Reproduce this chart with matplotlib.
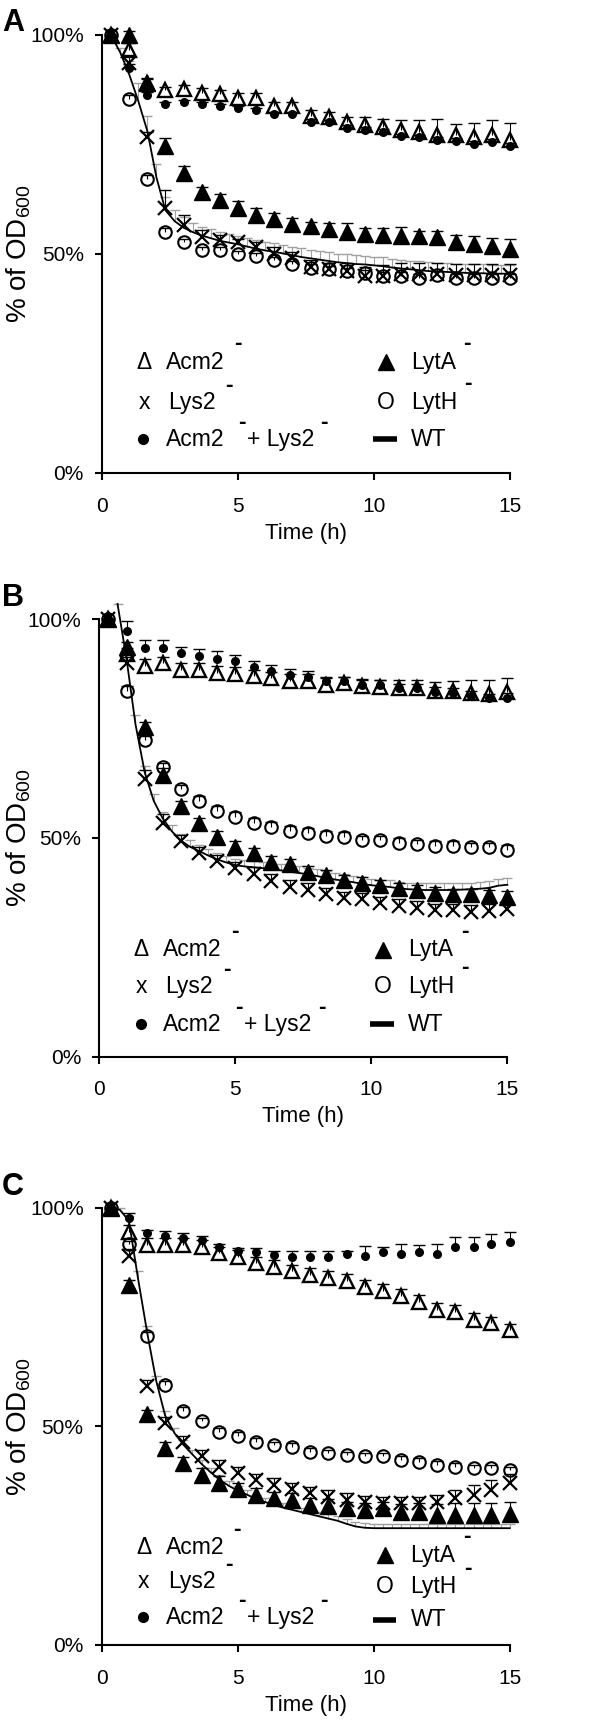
import numpy as np
import matplotlib
matplotlib.use("Agg")
import matplotlib.pyplot as plt

plt.rcParams['font.family'] = ['Liberation Sans', 'DejaVu Sans']
plt.rcParams['mathtext.default'] = 'regular'

# sampling times (h) of the mutant strains and of the wild type
TIME = [0.33, 1.0, 1.67, 2.33, 3.0, 3.67, 4.33, 5.0, 5.67, 6.33, 7.0, 7.67,
        8.33, 9.0, 9.67, 10.33, 11.0, 11.67, 12.33, 13.0, 13.67, 14.33, 15.0]
TIME_WT = [0.33, 0.67, 1.0, 1.33, 1.67, 2.0, 2.33, 2.67, 3.0, 3.33, 3.67, 4.0,
           4.33, 4.67, 5.0, 5.33, 5.67, 6.0, 6.33, 6.67, 7.0, 7.33, 7.67, 8.0,
           8.33, 8.67, 9.0, 9.33, 9.67, 10.0, 10.33, 10.67, 11.0, 11.33, 11.67,
           12.0, 12.33, 12.67, 13.0, 13.33, 13.67, 14.0, 14.33, 14.67, 15.0]

# ---- panel A ----
ACM2_A = [100, 96.6, 89, 87.4, 87.7, 86.8, 86.5, 85.7, 85.7, 83.8, 83.8, 81.5,
          81.2, 80.2, 79.5, 79.1, 78.3, 77.9, 77.2, 77.2, 76.6, 77.2, 76.0]
ACM2_A_ERR = [0, 1.5, 1, 0.8, 0.8, 1, 1, 1, 1, 1, 1, 1.4, 1.3, 1.1, 1.8, 1.7,
              2.4, 2.8, 3.6, 2.5, 3.2, 3.3, 3.8]
COMBO_A = [100, 92.4, 86.3, 84.2, 84.6, 84.2, 83.8, 83.3, 82.9, 81.9, 81.9, 80.2,
           80.1, 78.8, 78.3, 77.9, 76.9, 76.6, 76.0, 75.8, 75.1, 75.6, 74.7]
COMBO_A_ERR = [0, 1, 0.6, 0.5, 0.5, 0.5, 0.5, 0.5, 0.5, 0.6, 0.6, 0.6, 0.6, 0.6,
               0.6, 0.6, 0.6, 0.6, 0.6, 0.6, 0.6, 0.6, 0.6]
LYTA_A = [100, 100, 89, 74.7, 68.6, 64.1, 62.3, 60.6, 58.9, 57.9, 56.8, 56.4,
          55.6, 55.1, 54.5, 54.3, 54.0, 54.0, 53.8, 52.7, 52.2, 51.8, 51.1]
LYTA_A_ERR = [0, 0.8, 1.1, 1.7, 1.5, 1.3, 1.4, 1.4, 1.5, 1.4, 1.4, 0.8, 1.5, 1.9,
              1.5, 1.7, 2.1, 1.3, 1.4, 1.7, 1.8, 1.9, 2.3]
LYS2_A = [100, 93.7, 76.8, 60.4, 56.6, 53.8, 53.2, 52.7, 51.7, 50.0, 49.0, 47.1,
          46.5, 46.0, 45.0, 45.0, 45.4, 45.4, 45.4, 45.2, 45.2, 45.2, 45.2]
LYS2_A_ERR = [0, 1.8, 1.1, 4.2, 2.3, 1.7, 1.1, 0.8, 1.1, 1.5, 1.5, 1.5, 1.5, 2,
              2, 2.5, 2.5, 2.5, 2.5, 2.5, 2.5, 2.5, 2.5]
LYTH_A = [100, 85.3, 67.1, 55.1, 52.7, 50.9, 50.9, 49.9, 49.5, 48.6, 47.7, 46.9,
          46.5, 46.0, 45.6, 45.0, 45.0, 44.6, 45.2, 44.6, 44.6, 44.6, 44.6]
LYTH_A_ERR = [0, 1, 0.9, 0.8, 0.8, 0.8, 0.8, 0.8, 0.8, 0.8, 0.8, 0.8, 0.8, 0.8,
              0.8, 0.8, 0.8, 0.8, 0.8, 0.8, 0.8, 0.8, 0.8]
WT_A = [100, 96, 91, 85, 78, 67.5, 60, 57.5, 56, 55, 54.2, 53.6, 53, 52.6, 52.2,
        51.7, 51.2, 50.8, 50.5, 50.1, 49.7, 49.3, 49, 48.7, 48.4, 48.1, 47.9,
        47.7, 47.6, 47.4, 47.2, 46.9, 46.7, 46.5, 46.3, 46.1, 46.0, 45.9, 45.8,
        45.7, 45.6, 45.6, 45.5, 45.5, 45.5]
WT_A_ERR = [0, 1, 3, 4, 3.5, 3, 3, 2.5, 2.5, 2, 2, 2, 2, 2, 2, 2, 2, 2, 2, 2, 2,
            2, 2, 2, 2, 2, 2, 2, 2, 2, 2, 2, 2, 2, 2, 2, 2, 2, 2, 2, 2, 2, 2, 2, 2]

# ---- panel B ----
ACM2_B = [100, 92, 89.3, 89.9, 88.4, 88.4, 87.8, 87.5, 87.0, 86.5, 85.9, 85.9,
          85.0, 85.4, 84.8, 84.6, 84.2, 84.2, 83.7, 83.7, 83.1, 82.8, 83.3]
ACM2_B_ERR = [0, 1.5, 1.5, 1.5, 1.5, 1.5, 1.5, 1.5, 1.5, 1.5, 1.5, 1.5, 1.5, 1.5,
              1.5, 1.5, 1.8, 1.8, 2, 2.2, 3, 3.3, 3.2]
COMBO_B = [100, 97.2, 93.5, 93.5, 92.2, 91.7, 90.9, 90.5, 89.0, 88.2, 87.3, 86.7,
           85.9, 85.9, 85.0, 85.0, 84.2, 84.2, 83.4, 83.2, 82.5, 81.9, 82.1]
COMBO_B_ERR = [0, 2.3, 1.8, 1.8, 1.4, 1.4, 1.9, 1.4, 1.5, 1.3, 1.4, 1.5, 1, 1, 1,
               1, 1, 1, 1, 1, 1, 1, 1]
LYTA_B = [100, 93.7, 75.4, 64.4, 57.3, 53.4, 50.3, 48.0, 46.5, 44.6, 44.0, 42.3,
          41.5, 40.4, 39.8, 39.3, 38.5, 38.0, 37.5, 37.1, 37.1, 37.0, 36.6]
LYTA_B_ERR = [0, 1.2, 1.1, 1.5, 1.2, 1.2, 1.2, 1.2, 1.2, 1.2, 1.2, 1.2, 1.2, 1.2,
              1.2, 1.2, 1.2, 1.2, 1.2, 1.2, 1.2, 1.2, 1.2]
LYS2_B = [100, 89.9, 63.5, 53.4, 49.2, 46.5, 44.7, 43.1, 41.8, 40.2, 38.9, 38.1,
          37.1, 36.2, 36.0, 35.1, 34.5, 34.1, 33.5, 33.5, 33.1, 33.3, 33.7]
LYS2_B_ERR = [0, 1.5, 2, 2, 1.5, 1.5, 1.5, 1.5, 1.5, 1.5, 1.5, 1.5, 1.5, 1.5,
              1.5, 1.5, 1.5, 1.5, 1.5, 1.5, 1.5, 1.5, 1.5]
LYTH_B = [100, 83.7, 72.4, 66.2, 61.2, 58.5, 56.2, 54.9, 53.5, 52.6, 51.7, 51.2,
          50.5, 50.3, 49.5, 49.5, 48.9, 48.6, 48.2, 48.2, 47.9, 47.9, 47.3]
LYTH_B_ERR = [0, 1, 1, 1, 1, 1, 1, 1, 1, 1, 1, 1, 1, 1, 1, 1, 1, 1, 1, 1, 1, 1, 1]
TIME_WT_B = TIME_WT[1:]
WT_B = [103.5, 91, 76, 65, 58.5, 54.5, 51.5, 49.4, 48, 47, 46, 45.1, 44.4, 43.8,
        43.5, 43.3, 43.1, 42.9, 42.6, 42.3, 42.0, 41.7, 41.3, 40.9, 40.5, 40.2,
        39.9, 39.5, 39.2, 39.0, 38.8, 38.5, 38.3, 38.2, 38.1, 38.1, 38.1, 38.1,
        38.2, 38.3, 38.4, 38.6, 39.1, 39.3]
WT_B_ERR = [0, 2, 2, 1.5, 1.5, 1.5, 1.5, 1.5, 1.5, 1.5, 1.5, 1.5, 1.5, 1.5, 1.5,
            1.5, 1.5, 1.5, 1.5, 1.5, 1.5, 1.5, 1.5, 1.5, 1.5, 1.5, 1.5, 1.5, 1.5,
            1.5, 1.5, 1.5, 1.5, 1.5, 1.5, 1.5, 1.5, 1.5, 1.5, 1.5, 1.5, 1.5, 1.5,
            1.5]

# ---- panel C ----
ACM2_C = [100, 94.5, 91.5, 91.5, 91.5, 91.1, 89.6, 88.8, 87.3, 86.5, 85.4, 84.6,
          83.9, 83.3, 81.9, 81.0, 79.8, 78.5, 76.6, 76.2, 74.3, 73.6, 72.0]
ACM2_C_ERR = [0, 1.5, 1.5, 1.5, 1.5, 1.5, 1.5, 1.5, 1.5, 1.5, 1.5, 1.5, 1.5, 1.5,
              1.5, 1.5, 1.5, 1.5, 1.5, 1.5, 1.5, 1.5, 1.4]
COMBO_C = [100, 97.6, 94.1, 93.5, 93.1, 92.6, 90.9, 90.1, 89.9, 89.2, 88.7, 88.7,
           88.7, 89.4, 89.0, 89.9, 89.4, 89.9, 89.3, 90.9, 90.9, 91.6, 92.2]
COMBO_C_ERR = [0, 1.1, 0.9, 1.1, 1, 0.9, 0.9, 0.6, 0.8, 1, 1.5, 1.5, 1.5, 0.8,
               2.3, 1, 2.4, 1.5, 2.5, 2.3, 2.3, 2.3, 2.3]
LYTA_C = [100, 82.3, 52.8, 45.0, 41.5, 38.9, 37.1, 35.6, 34.3, 33.5, 33.2, 32.0,
          31.8, 31.3, 30.9, 31.3, 30.5, 30.4, 29.7, 29.7, 29.7, 29.7, 30.0]
LYTA_C_ERR = [0, 1.1, 1, 1.5, 1.5, 1.5, 1.5, 1.5, 1.5, 1.5, 1.5, 1.5, 1.5, 1.5,
              1.5, 1.5, 1.8, 2, 2.5, 2.7, 2.7, 2.7, 2.7]
LYS2_C = [100, 89.0, 59.2, 50.7, 46.3, 43.1, 40.8, 39.3, 37.7, 36.6, 35.6, 34.7,
          33.9, 33.2, 32.6, 32.4, 32.4, 32.4, 32.8, 33.5, 34.3, 35.4, 37.0]
LYS2_C_ERR = [0, 1.5, 1.5, 1.5, 1.5, 1.5, 1.5, 1.5, 1.5, 1.5, 1.5, 1.5, 1.5, 1.5,
              1.5, 1.5, 1.5, 1.5, 1.5, 1.9, 2.2, 2.3, 2.0]
LYTH_C = [100, 91.6, 70.7, 59.5, 53.6, 51.1, 48.8, 47.8, 46.5, 45.7, 45.3, 44.2,
          43.8, 43.4, 43.1, 43.1, 42.3, 41.9, 41.2, 40.8, 40.4, 40.4, 39.9]
LYTH_C_ERR = [0, 0.8, 0.8, 0.8, 0.8, 0.8, 0.8, 0.8, 0.8, 0.8, 0.8, 0.8, 0.8, 0.8,
              0.8, 0.8, 0.8, 0.8, 0.8, 0.8, 0.8, 0.8, 0.8]
WT_C = [100, 99.5, 97, 84, 71.5, 60.5, 52.5, 48.5, 45.8, 43.6, 41.4, 39.5, 37.8,
        36.4, 35.3, 34.4, 33.4, 32.7, 32.0, 31.4, 30.9, 30.4, 29.9, 29.4, 28.9,
        28.4, 27.7, 27.1, 26.8, 26.7, 26.7, 26.7, 26.7, 26.7, 26.7, 26.7, 26.7,
        26.7, 26.7, 26.7, 26.7, 26.7, 26.7, 26.7, 26.7]
WT_C_ERR = [0, 0.5, 1, 1.5, 1.5, 1, 1, 1, 1, 1, 1, 1, 1, 1, 1, 1, 1, 1, 1, 1, 1,
            1, 1, 1, 1, 1, 1, 1, 1, 1, 1, 1, 1, 1, 1, 1, 1, 1, 1, 1, 1, 1, 1, 1, 1]

PANELS = [
    ('A', [0.170, 0.7255, 0.680, 0.2542], 1 - 8 / 1723,
     (ACM2_A, ACM2_A_ERR), (COMBO_A, COMBO_A_ERR), (LYTA_A, LYTA_A_ERR),
     (LYS2_A, LYS2_A_ERR), (LYTH_A, LYTH_A_ERR), (TIME_WT, WT_A, WT_A_ERR),
     (0.253, 0.162, 0.077), (0.253, 0.162, 0.077)),
    ('B', [0.1655, 0.3867, 0.680, 0.2539], 1 - 583 / 1723,
     (ACM2_B, ACM2_B_ERR), (COMBO_B, COMBO_B_ERR), (LYTA_B, LYTA_B_ERR),
     (LYS2_B, LYS2_B_ERR), (LYTH_B, LYTH_B_ERR), (TIME_WT_B, WT_B, WT_B_ERR),
     (0.245, 0.161, 0.074), (0.245, 0.161, 0.074)),
    ('C', [0.1695, 0.0453, 0.680, 0.2538], 1 - 1172 / 1723,
     (ACM2_C, ACM2_C_ERR), (COMBO_C, COMBO_C_ERR), (LYTA_C, LYTA_C_ERR),
     (LYS2_C, LYS2_C_ERR), (LYTH_C, LYTH_C_ERR), (TIME_WT, WT_C, WT_C_ERR),
     (0.222, 0.146, 0.063), (0.205, 0.133, 0.058)),
]


def up_errors(ax, t, v, e, color, capw):
    # one-sided (upper) error bars, Excel style
    t = np.asarray(t)
    v = np.asarray(v, dtype=float)
    e = np.asarray(e, dtype=float)
    ax.vlines(t, v, v + e, colors=color, linewidth=0.8, clip_on=False, zorder=2)
    ax.plot(t, v + e, ls='none', marker='_', ms=capw, mew=1.0, color=color,
            clip_on=False, zorder=2)


def draw_legend(ax, rows_l, rows_r):
    fs = 16.5
    kw = dict(transform=ax.transAxes, fontsize=fs, va='center', clip_on=False)
    sup = dict(transform=ax.transAxes, fontsize=fs, va='center', ha='center',
               fontweight='bold')
    r1, r2, r3 = rows_l
    ax.text(0.103, r1, 'Δ', ha='center', **kw)
    ax.text(0.157, r1, 'Acm2', ha='left', **kw)
    ax.text(0.332, r1 + 0.042, '-', **sup)
    ax.text(0.103, r2, 'x', ha='center', **kw)
    ax.text(0.162, r2, 'Lys2', ha='left', **kw)
    ax.text(0.312, r2 + 0.038, '-', **sup)
    ax.plot([0.101], [r3], 'o', color='black', ms=7, transform=ax.transAxes,
            clip_on=False)
    ax.text(0.157, r3, 'Acm2', ha='left', **kw)
    ax.text(0.343, r3 + 0.039, '-', **sup)
    ax.text(0.355, r3, '+ Lys2', ha='left', **kw)
    ax.text(0.545, r3 + 0.039, '-', **sup)

    q1, q2, q3 = rows_r
    ax.plot([0.695], [q1], '^', color='black', ms=12, transform=ax.transAxes,
            clip_on=False)
    ax.text(0.757, q1, 'LytA', ha='left', **kw)
    ax.text(0.895, q1 + 0.042, '-', **sup)
    ax.text(0.695, q2, 'O', ha='center', **kw)
    ax.text(0.757, q2, 'LytH', ha='left', **kw)
    ax.text(0.897, q2 + 0.042, '-', **sup)
    ax.plot([0.664, 0.722], [q3, q3], color='black', lw=4, solid_capstyle='butt',
            transform=ax.transAxes, clip_on=False)
    ax.text(0.757, q3, 'WT', ha='left', **kw)


fig = plt.figure(figsize=(6, 17.23), dpi=100)

for (letter, rect, ytop, acm2, combo, lyta, lys2, lyth, wt,
     rows_l, rows_r) in PANELS:
    ax = fig.add_axes(rect)

    # wild type: line with gray error bars
    up_errors(ax, wt[0], wt[1], wt[2], '#a0a0a0', 7)
    ax.plot(wt[0], wt[1], color='black', lw=1.3, clip_on=False, zorder=3)

    for vals, errs in (acm2, combo, lyta, lys2, lyth):
        up_errors(ax, TIME, vals, errs, 'black', 9)

    ax.plot(TIME, lyta[0], ls='none', marker='^', ms=11, color='black',
            clip_on=False, zorder=4)
    ax.plot(TIME, acm2[0], ls='none', marker='^', ms=10, mfc='none', mec='black',
            mew=1.7, clip_on=False, zorder=4)
    ax.plot(TIME, lys2[0], ls='none', marker='x', ms=10, mec='black', mew=1.6,
            clip_on=False, zorder=4)
    ax.plot(TIME, lyth[0], ls='none', marker='o', ms=9, mfc='none', mec='black',
            mew=1.5, clip_on=False, zorder=4)
    ax.plot(TIME, combo[0], ls='none', marker='o', ms=5.5, color='black',
            clip_on=False, zorder=5)

    ax.set_xlim(0, 15)
    ax.set_ylim(0, 100)
    ax.set_xticks([0, 5, 10, 15])
    ax.set_yticks([0, 50, 100])
    ax.set_yticklabels(['0%', '50%', '100%'])
    for s in ('top', 'right'):
        ax.spines[s].set_visible(False)
    for s in ('left', 'bottom'):
        ax.spines[s].set_linewidth(1.5)
    ax.tick_params(axis='both', direction='out', length=5, width=1.5,
                   labelsize=15)
    ax.tick_params(axis='x', pad=12)
    ax.tick_params(axis='y', pad=8)
    ax.set_xlabel('Time (h)', fontsize=16, labelpad=5)

    draw_legend(ax, rows_l, rows_r)

    # y label and panel letter in figure coordinates
    yc = rect[1] + rect[3] / 2
    fig.text(0.031, yc, '% of OD$_{600}$', rotation=90, fontsize=20,
             ha='center', va='center')
    fig.text(0.003, ytop, letter, fontsize=22, fontweight='bold',
             ha='left', va='top')

fig.savefig('out.png', dpi=100)
